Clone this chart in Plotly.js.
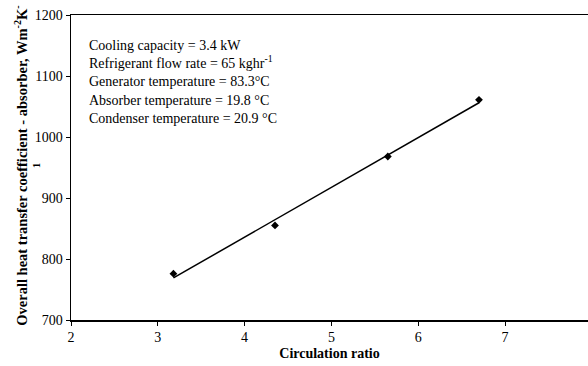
<!DOCTYPE html>
<html>
<head>
<meta charset="utf-8">
<script src="https://cdn.plot.ly/plotly-3.0.1.min.js"></script>
<style>html,body{margin:0;padding:0;background:#fff;}#chart{width:588px;height:366px;}</style>
</head>
<body>
<div id="chart"></div>
<script>
var circulationRatio = [3.18, 4.35, 5.65, 6.70];
var heatTransferCoeff = [776, 855, 968, 1061];
var xTicks = [2, 3, 4, 5, 6, 7];
var yTicks = [700, 800, 900, 1000, 1100, 1200];
var infoLines = [
  "Cooling capacity = 3.4 kW",
  "Refrigerant flow rate = 65 kghr<sup>-1</sup>",
  "Generator temperature = 83.3°C",
  "Absorber temperature = 19.8 °C",
  "Condenser temperature = 20.9 °C"
];
var yTitle = "<b>Overall heat transfer coefficient - absorber, Wm<sup>-2</sup>K<sup>-</sup></b><br><b><sup>1</sup></b>";
var xTitle = "<b>Circulation ratio</b>";

// least-squares linear trendline (as in the original spreadsheet chart)
var n = circulationRatio.length, sx = 0, sy = 0, sxx = 0, sxy = 0;
for (var i = 0; i < n; i++) {
  sx += circulationRatio[i]; sy += heatTransferCoeff[i];
  sxx += circulationRatio[i] * circulationRatio[i];
  sxy += circulationRatio[i] * heatTransferCoeff[i];
}
var slope = (n * sxy - sx * sy) / (n * sxx - sx * sx);
var icpt = (sy - slope * sx) / n;
var xMin = Math.min.apply(null, circulationRatio), xMax = Math.max.apply(null, circulationRatio);
var trendX = [xMin, xMax];
var trendY = trendX.map(function (x) { return icpt + slope * x; });

var font = {family: "Liberation Serif, Times New Roman, serif", size: 14, color: "#000"};
var titleFont = {family: font.family, size: 14.5, color: "#000"};

var traces = [
  {x: trendX, y: trendY, mode: "lines", line: {color: "#000", width: 1.5}, hoverinfo: "skip", showlegend: false},
  {x: circulationRatio, y: heatTransferCoeff, mode: "markers",
   marker: {symbol: "diamond", size: 6, color: "#000"}, showlegend: false}
];

var layout = {
  width: 588, height: 366,
  margin: {l: 71, r: 0, t: 15, b: 46},
  paper_bgcolor: "#fff", plot_bgcolor: "#fff",
  font: font,
  showlegend: false,
  xaxis: {
    range: [2, 7.956], tickvals: xTicks, ticktext: xTicks.map(String),
    showgrid: false, zeroline: false, showline: true, linecolor: "#000", linewidth: 1.5,
    mirror: true, ticks: "outside", ticklen: 4, tickcolor: "#000", tickwidth: 1,
    tickfont: font,
    title: {text: xTitle, font: font, standoff: 4}
  },
  yaxis: {
    range: [700, 1200], tickvals: yTicks, ticktext: yTicks.map(String),
    showgrid: false, zeroline: false, showline: true, linecolor: "#000", linewidth: 1.5,
    ticks: "outside", ticklen: 4, tickcolor: "#000", tickwidth: 1,
    tickfont: font
  },
  annotations: [{
    xref: "paper", yref: "paper", x: 0.031, y: 0.93, xanchor: "left", yanchor: "top",
    align: "left", showarrow: false, text: infoLines.join("<br>"),
    font: font
  }, {
    xref: "paper", yref: "paper", x: -0.085, y: 0.506, xanchor: "center", yanchor: "middle",
    textangle: -90, showarrow: false, text: yTitle, font: titleFont
  }]
};

Plotly.newPlot("chart", traces, layout, {displayModeBar: false, staticPlot: true});
</script>
</body>
</html>
